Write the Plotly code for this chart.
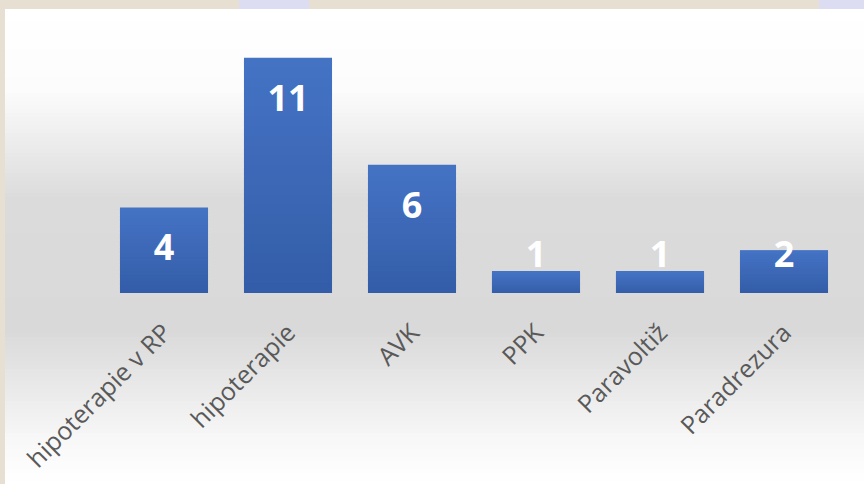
import plotly.graph_objects as go
import numpy as np

categories = ["hipoterapie v RP", "hipoterapie", "AVK", "PPK", "Paravoltiž", "Paradrezura"]
counts = [4, 11, 6, 1, 1, 2]

W, H = 864, 484
L, R, T, B = 102, 18, 30, 191
Y_MAX = 12.3

BAR_TOP = np.array([0x45, 0x73, 0xc5])
BAR_BOTTOM = np.array([0x33, 0x5d, 0xa7])
LABEL_GRAY = "#595959"
BEIGE = "#e7dfd2"

# value label sits ~2 units below the bar top, but never lower than 1.65
label_y = [max(v - 2.05, 1.65) for v in counts]

fig = go.Figure()
# bars drawn as stacked slices to get the vertical gradient fill
# (each slice overlaps the next one a bit so no seams show)
N = 24
for k in range(N):
    t = (k + 0.5) / N
    c = BAR_BOTTOM + (BAR_TOP - BAR_BOTTOM) * t
    fig.add_trace(go.Bar(
        x=categories,
        y=[v / N * 1.8 if k < N - 1 else v / N for v in counts],
        base=[v * k / N for v in counts],
        marker=dict(color=f"rgb({c[0]:.0f},{c[1]:.0f},{c[2]:.0f})", line=dict(width=0)),
        width=0.71,
        hoverinfo="skip",
    ))
fig.add_trace(go.Scatter(
    x=categories, y=label_y,
    mode="text",
    text=[str(v) for v in counts],
    textfont=dict(family="Open Sans", size=36, color="white", weight="bold"),
    hoverinfo="skip",
))

# background panel: white -> grey -> white vertical gradient
pw, ph = W - L - R, H - T - B
def px_to_paper_y(py):
    return (H - B - py) / ph
def px_to_paper_x(px):
    return (px - L) / pw

stops_y = [9, 90, 200, 330, 440, 484]
stops_v = [255, 252, 219, 217, 248, 255]
shapes = []
edges = np.arange(9, 485, 4)
for y0 in edges:
    y1 = min(y0 + 4, 484)
    g = int(round(np.interp((y0 + y1) / 2, stops_y, stops_v)))
    shapes.append(dict(
        type="rect", xref="paper", yref="paper", layer="below",
        x0=px_to_paper_x(5), x1=px_to_paper_x(870),
        y0=px_to_paper_y(y1 + 0.5), y1=px_to_paper_y(y0),
        fillcolor=f"rgb({g},{g},{g})", line=dict(width=0),
    ))
# light lavender patches on the top strip
for x0, x1 in [(239, 309), (819, 870)]:
    shapes.append(dict(
        type="rect", xref="paper", yref="paper", layer="below",
        x0=px_to_paper_x(x0), x1=px_to_paper_x(x1),
        y0=px_to_paper_y(9), y1=px_to_paper_y(-2),
        fillcolor="#dcdcf2", line=dict(width=0),
    ))

fig.update_layout(
    width=W, height=H,
    margin=dict(l=L, r=R, t=T, b=B, autoexpand=False),
    paper_bgcolor=BEIGE,
    plot_bgcolor="rgba(0,0,0,0)",
    showlegend=False,
    barmode="overlay",
    shapes=shapes,
    xaxis=dict(
        tickangle=-45,
        tickfont=dict(family="Open Sans", size=25, color=LABEL_GRAY),
        showgrid=False, zeroline=False, showline=False,
        ticks="outside", ticklen=14, tickcolor="rgba(0,0,0,0)",
        automargin=False,
    ),
    yaxis=dict(
        range=[0, Y_MAX], visible=False, showgrid=False, zeroline=False,
    ),
)

fig.write_html("out.html", config={"displayModeBar": False},
               post_script="document.body.style.margin='0';")
